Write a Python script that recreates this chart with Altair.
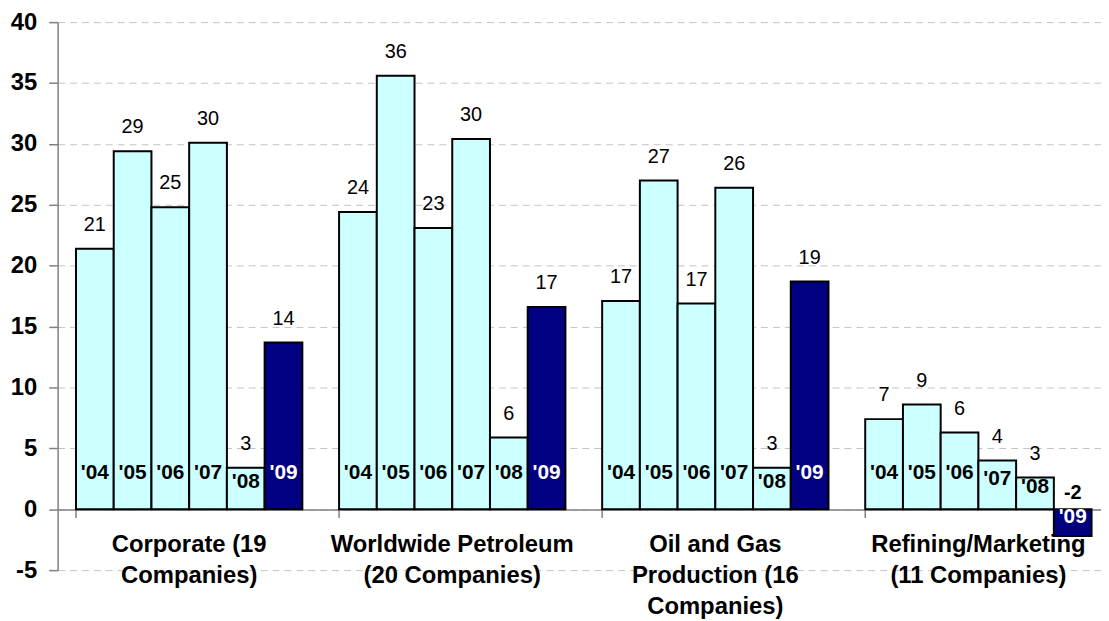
import altair as alt
import pandas as pd

# ---- data ----
groups = [
    "Corporate (19\nCompanies)",
    "Worldwide Petroleum\n(20 Companies)",
    "Oil and Gas\nProduction (16\nCompanies)",
    "Refining/Marketing\n(11 Companies)",
]
years = ["'04", "'05", "'06", "'07", "'08", "'09"]
corporate = [21.4, 29.4, 24.8, 30.1, 3.4, 13.7]
worldwide = [24.4, 35.6, 23.1, 30.4, 5.9, 16.6]
oil_gas = [17.1, 27.0, 16.9, 26.4, 3.4, 18.7]
refining = [7.4, 8.6, 6.3, 4.0, 2.6, -2.2]
y_ticks = [-5, 0, 5, 10, 15, 20, 25, 30, 35, 40]

series = [corporate, worldwide, oil_gas, refining]
rows = []
for g, vals in zip(groups, series):
    for y, v in zip(years, vals):
        rows.append({"group": g, "year": y, "value": v,
                     "hl": "last" if y == "'09" else "other"})
df = pd.DataFrame(rows)
cat_df = pd.DataFrame({"group": groups})

FONT = "Liberation Sans"

x_enc = alt.X(
    "group:N", sort=groups, title=None,
    scale=alt.Scale(range=[0, 1060], paddingInner=0.1396, paddingOuter=0.0698),
    axis=alt.Axis(orient="bottom", offset=-61, labels=False, ticks=True,
                  tickSize=8, tickColor="#808080", tickWidth=1.5,
                  bandPosition=0, domainColor="#808080", domainWidth=1.5,
                  grid=False),
)
x_off = alt.XOffset("year:N", sort=years,
                    scale=alt.Scale(paddingInner=0, paddingOuter=0))
y_scale = alt.Scale(domain=[-5, 40], nice=False, zero=False)

base = alt.Chart(df).transform_calculate(
    vlabel="toString(round(datum.value))"
)

bars = base.mark_bar(stroke="black", strokeWidth=2).encode(
    x=x_enc,
    xOffset=x_off,
    y=alt.Y("value:Q", scale=y_scale, title=None,
            axis=alt.Axis(values=y_ticks, labelFontSize=24, labelFont=FONT,
                          labelFontWeight="bold", labelColor="black",
                          labelExpr="toString(datum.value)",
                          labelPadding=12, tickSize=9, tickColor="#808080",
                          tickWidth=1.5, domainColor="#808080", domainWidth=1.5,
                          gridColor="#c4c4c4", gridDash=[7, 5], gridWidth=1)),
    color=alt.Color("hl:N", scale=alt.Scale(domain=["other", "last"],
                                            range=["#CCFFFF", "#000080"]),
                    legend=None),
)

pos_labels = base.transform_filter("datum.value >= 0").mark_text(
    fontSize=20, font=FONT, dy=-24, baseline="middle", color="black"
).encode(
    x=alt.X("group:N", sort=groups),
    xOffset=x_off,
    y=alt.Y("value:Q", scale=y_scale),
    text="vlabel:N",
)

neg_labels = base.transform_filter("datum.value < 0").transform_calculate(
    ypos="0"
).mark_text(
    fontSize=20, font=FONT, fontWeight="bold", dy=-16, baseline="middle",
    color="black"
).encode(
    x=alt.X("group:N", sort=groups),
    xOffset=x_off,
    y=alt.Y("ypos:Q", scale=y_scale),
    text="vlabel:N",
)

year_labels = base.transform_calculate(
    ypos="min(3, datum.value / 2 + 0.5)"
).mark_text(
    fontSize=21, font=FONT, fontWeight="bold", baseline="middle"
).encode(
    x=alt.X("group:N", sort=groups),
    xOffset=x_off,
    y=alt.Y("ypos:Q", scale=y_scale),
    text="year:N",
    color=alt.Color("hl:N", scale=alt.Scale(domain=["other", "last"],
                                            range=["black", "white"]),
                    legend=None),
)

cat_labels = alt.Chart(cat_df).mark_text(
    fontSize=24, font=FONT, fontWeight="bold", baseline="top",
    lineBreak="\n", lineHeight=31, color="black"
).encode(
    x=alt.X("group:N", sort=groups),
    y=alt.value(515),
    text="group:N",
)

chart = alt.layer(bars, pos_labels, neg_labels, year_labels, cat_labels).resolve_scale(
    color="independent"
).properties(
    width=1051, height=552,
    autosize=alt.AutoSizeParams(type="none"),
    padding={"left": 50, "top": 12, "right": 0, "bottom": 50},
).configure_view(strokeWidth=0)

chart.save("out.html", embed_options={"renderer": "svg", "actions": False})
